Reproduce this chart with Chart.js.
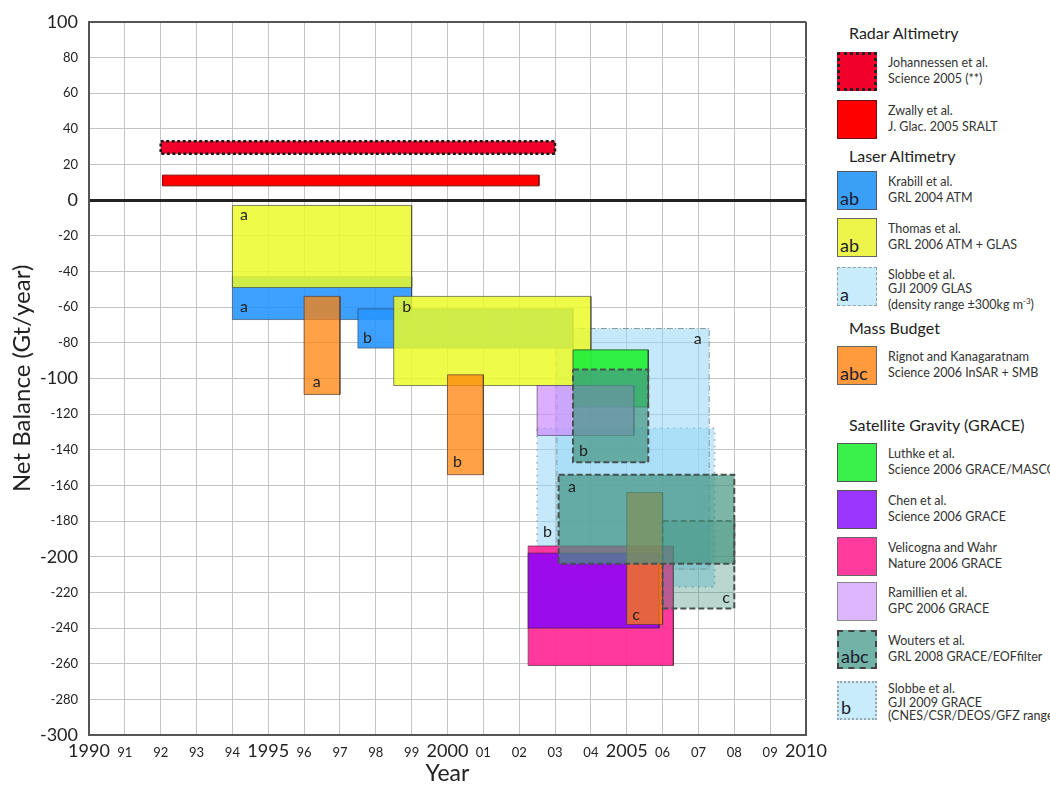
<!DOCTYPE html>
<html>
<head>
<meta charset="utf-8">
<script src="https://cdn.jsdelivr.net/npm/chart.js@4.4.0/dist/chart.umd.min.js"></script>
<style>
  body { margin: 0; background: #fff; width: 1050px; height: 787px; position: relative; overflow: hidden; font-family: Lato, 'Open Sans', sans-serif; }
  #chart { position: absolute; left: 0; top: 0; }
  .head { position: absolute; left: 849px; font-size: 16px; line-height: 20px; color: #222; white-space: nowrap; }
  .item { position: absolute; left: 837px; width: 213px; height: 39px; }
  .sw { position: absolute; left: 0; top: 0; width: 40px; height: 39px; box-sizing: border-box; }
  .sw span { position: absolute; left: 2px; bottom: 1px; font-size: 18px; line-height: 20px; color: #1c1c30; }
  .txt { position: absolute; left: 51px; top: 3px; font-size: 12.5px; line-height: 15.6px; color: #333; white-space: nowrap; }
  .txt.three { top: 1px; line-height: 13.6px; }
</style>
</head>
<body>
<canvas id="chart" width="835" height="787"></canvas>
<div id="legend"></div>
<script>
// legend series
const seriesNames = ['Johannessen et al.', 'Zwally et al.', 'Krabill et al.', 'Thomas et al.', 'Slobbe et al.',
  'Rignot and Kanagaratnam', 'Luthke et al.', 'Chen et al.', 'Velicogna and Wahr', 'Ramillien et al.', 'Wouters et al.', 'Slobbe et al.'];
const seriesRefs = ['Science 2005 (**)', 'J. Glac. 2005 SRALT', 'GRL 2004  ATM', 'GRL 2006  ATM + GLAS',
  'GJI 2009 GLAS<br>(density range \u00b1300kg m<sup style="font-size:8px">-3</sup>)', 'Science 2006 InSAR + SMB',
  'Science 2006  GRACE/MASCON', 'Science 2006  GRACE', 'Nature 2006  GRACE', 'GPC 2006 GRACE',
  'GRL 2008 GRACE/EOFfilter', 'GJI 2009 GRACE<br>(CNES/CSR/DEOS/GFZ range)'];
const seriesLetters = ['', '', 'ab', 'ab', 'a', 'abc', '', '', '', '', 'abc', 'b'];
const groupNames = ['Radar Altimetry', 'Laser Altimetry', 'Mass Budget', 'Satellite Gravity (GRACE)'];

// boxes: study index, years from/to, balance high/low (Gt/year), bottom-most first
const boxStudy   = [11, 4, 0, 1, 2, 2, 3, 3, 8, 7, 5, 5, 5, 6, 9, 10, 10, 10];
const yearFrom   = [2002.5, 2003.05, 1992, 1992.05, 1994, 1997.5, 1994, 1998.5, 2002.25, 2002.25, 1996, 2000, 2005, 2003.5, 2002.5, 2006, 2003.5, 2003.1];
const yearTo     = [2007.45, 2007.3, 2003, 2002.55, 1999, 2003.5, 1999, 2004, 2006.3, 2005.9, 1997, 2001, 2006, 2005.6, 2005.2, 2008, 2005.6, 2008];
const balanceHigh = [-128, -72, 33, 14, -43, -61, -3, -54, -194, -198, -54, -98, -164, -84, -104, -180, -95, -154];
const balanceLow  = [-217, -207, 26, 8, -67, -83, -49, -104, -261, -240, -109, -154, -238, -116, -132, -229, -147, -204];

// letters inside the boxes
const letters = ['a', 'a', 'a', 'b', 'b', 'b', 'a', 'b', 'a', 'b', 'c', 'c'];
const letterYear = [1994.32, 1994.32, 1996.35, 1997.77, 1998.86, 2000.28, 2006.98, 2003.79, 2003.47, 2002.79, 2007.77, 2005.26];
const letterBalance = [-8, -60, -102, -77, -60, -147, -78, -140.5, -161, -186, -223, -232.5];

const yearTicksBig = 5;

// styles for each study
const fills = ['rgba(240,0,42,1)', 'rgba(255,0,0,1)', 'rgba(40,150,255,0.9)', 'rgba(235,250,40,0.85)', 'rgba(150,215,245,0.55)',
  'rgba(255,130,10,0.75)', 'rgba(40,240,60,0.95)', 'rgba(150,10,240,0.95)', 'rgba(255,40,150,0.92)', 'rgba(205,140,255,0.7)',
  'rgba(70,150,130,0.7)', 'rgba(150,215,245,0.55)'];
const boxFillOverride = {15: 'rgba(70,150,130,0.38)'};
const swatchColors = ['#f0002a', '#ff0000', '#3aa0f5', '#eef54a', '#c8ecfb', '#ff9b3d', '#3af04a', '#9a36ff', '#ff3c9e', '#dcb6ff', '#73b2a6', '#c8ecfb'];
const lineStyles = [
  {color: '#1a1a1a', width: 2.5, dash: [3, 2.5]},
  {color: '#8a0000', width: 1, dash: []},
  {color: 'rgba(40,60,90,0.6)', width: 1, dash: []},
  {color: 'rgba(80,80,60,0.7)', width: 1, dash: []},
  {color: '#8898a0', width: 1, dash: [6, 2, 1, 2]},
  {color: 'rgba(90,60,40,0.7)', width: 1, dash: []},
  {color: 'rgba(30,60,30,0.7)', width: 1, dash: []},
  {color: 'rgba(60,30,80,0.7)', width: 1, dash: []},
  {color: 'rgba(90,40,60,0.7)', width: 1, dash: []},
  {color: 'rgba(90,70,110,0.7)', width: 1, dash: []},
  {color: '#46524f', width: 2, dash: [6, 3]},
  {color: '#98a4aa', width: 1.5, dash: [1.5, 5]}
];
const swatchBorders = ['3px dotted #222', '1.5px solid #6a1010', '1.5px solid #556', '1.5px solid #666', '1.5px dashed #8aa0a8',
  '1.5px solid #666', '1.5px solid #555', '1.5px solid #555', '1.5px solid #666', '1.5px solid #888', '2px dashed #444', '2px dotted #99a6ac'];

// legend layout
const headTops = [23, 146, 318, 415];
const itemTops = [52, 100, 171, 218, 267, 346, 443, 490, 537, 582, 630, 681];

const legendEl = document.getElementById('legend');
groupNames.forEach((g, i) => {
  const d = document.createElement('div');
  d.className = 'head';
  d.style.top = headTops[i] + 'px';
  d.textContent = g;
  legendEl.appendChild(d);
});
seriesNames.forEach((name, i) => {
  const d = document.createElement('div');
  d.className = 'item';
  d.style.top = itemTops[i] + 'px';
  const cls = seriesRefs[i].indexOf('<br>') >= 0 ? 'txt three' : 'txt';
  d.innerHTML = '<div class="sw" style="background:' + swatchColors[i] + ';border:' + swatchBorders[i] + '"><span>' +
    seriesLetters[i] + '</span></div><div class="' + cls + '">' + name + '<br>' + seriesRefs[i] + '</div>';
  legendEl.appendChild(d);
});

const datasets = [];
boxStudy.forEach((s, i) => {
  const x0 = yearFrom[i], x1 = yearTo[i], hi = balanceHigh[i], lo = balanceLow[i];
  const ls = lineStyles[s];
  datasets.push({
    data: [{x: x0, y: hi}, {x: x1, y: hi}],
    fill: {value: lo},
    backgroundColor: boxFillOverride[i] || fills[s],
    borderColor: 'transparent',
    borderWidth: 0,
    pointRadius: 0,
    order: 1000 - i * 2
  });
  datasets.push({
    data: [{x: x0, y: hi}, {x: x1, y: hi}, {x: x1, y: lo}, {x: x0, y: lo}, {x: x0, y: hi}],
    fill: false,
    borderColor: ls.color,
    borderWidth: ls.width,
    borderDash: ls.dash,
    borderCapStyle: 'butt',
    pointRadius: 0,
    tension: 0,
    order: 999 - i * 2
  });
});

const letterPlugin = {
  id: 'letters',
  afterDatasetsDraw(chart) {
    const {ctx, scales: {x, y}} = chart;
    ctx.save();
    ctx.font = '16px Lato';
    ctx.fillStyle = '#222';
    ctx.textAlign = 'center';
    ctx.textBaseline = 'middle';
    letters.forEach((t, i) => {
      ctx.fillText(t, x.getPixelForValue(letterYear[i]), y.getPixelForValue(letterBalance[i]));
    });
    ctx.restore();
  }
};

const ctx = document.getElementById('chart').getContext('2d');
const chart = new Chart(ctx, {
  type: 'line',
  data: {datasets: datasets},
  options: {
    responsive: false,
    animation: false,
    layout: {padding: {top: 19, right: 29, bottom: 0, left: 0}},
    plugins: {legend: {display: false}, tooltip: {enabled: false}},
    scales: {
      x: {
        type: 'linear',
        min: 1990, max: 2010,
        afterFit(scale) { scale.height = 52; },
        ticks: {
          stepSize: 1,
          padding: 5,
          maxRotation: 0,
          minRotation: 0,
          autoSkip: false,
          color: '#222',
          callback: v => v % yearTicksBig === 0 ? String(v) : String(v).slice(2),
          font: c => (c.tick && c.tick.value % yearTicksBig === 0) ? {family: 'Lato', size: 18, lineHeight: 1.2} : {family: 'Lato', size: 13, lineHeight: 2}
        },
        grid: {
          drawTicks: false,
          color: c => c.tick && c.tick.value === 2010 ? '#555' : '#c4c4c4',
          lineWidth: c => c.tick && c.tick.value === 2010 ? 2 : 1
        },
        border: {color: '#555', width: 2},
        title: {display: true, text: 'Year', color: '#222', font: {family: 'Lato', size: 23}, padding: {top: 0, bottom: 0}}
      },
      y: {
        min: -300, max: 100,
        afterFit(scale) { scale.width = 89; },
        ticks: {
          stepSize: 20,
          padding: 11,
          color: '#222',
          callback: v => String(v),
          font: c => ({family: 'Lato', size: c.tick && c.tick.value % 100 === 0 ? 18 : 13})
        },
        grid: {
          drawTicks: false,
          color: c => c.tick && c.tick.value === 0 ? '#222' : (c.tick && c.tick.value === 100 ? '#555' : '#c4c4c4'),
          lineWidth: c => c.tick && c.tick.value === 0 ? 3 : (c.tick && c.tick.value === 100 ? 2 : 1)
        },
        border: {color: '#555', width: 2},
        title: {display: true, text: 'Net Balance (Gt/year)', color: '#222', font: {family: 'Lato', size: 24}, padding: {top: 8, bottom: 0}}
      }
    }
  },
  plugins: [letterPlugin]
});
</script>
</body>
</html>
